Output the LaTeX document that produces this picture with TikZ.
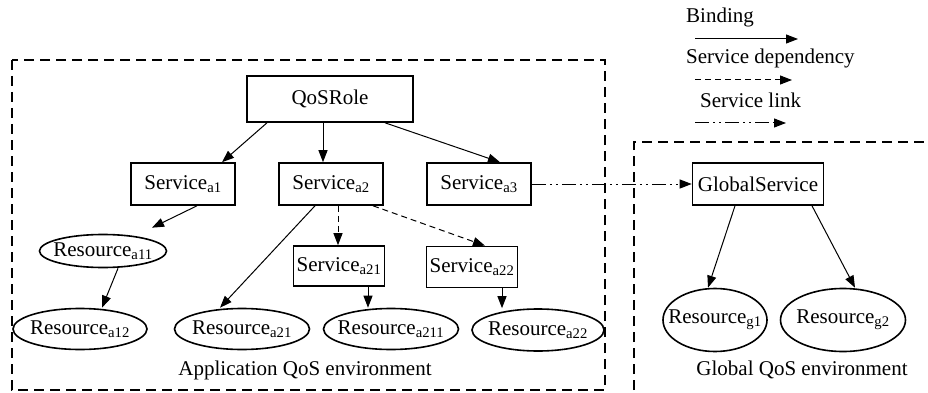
\documentclass[tikz,border=0pt]{standalone}
\usepackage{fontspec}
\setmainfont{Liberation Serif}
\usetikzlibrary{arrows.meta,shapes.geometric}
\newcommand\sbs[1]{\textsubscript{#1}}
\begin{document}
\begin{tikzpicture}[x=1pt,y=-1pt,
  every node/.style={font=\fontsize{21}{24}\selectfont, inner sep=0pt},
  sbox/.style={draw, line width=1.6pt, rectangle},
  rbox/.style={draw, line width=1.6pt, ellipse, inner xsep=-12pt, inner ysep=-8pt},
  env/.style={draw, line width=2.4pt, dash pattern=on 10pt off 6pt},
  tip/.style={-{Triangle[length=12pt,width=9pt]}},
  bind/.style={tip, line width=1pt},
  dep/.style={tip, line width=1pt, dash pattern=on 6pt off 4pt},
  lnk/.style={tip, line width=1pt, dash pattern=on 14pt off 4pt on 2pt off 4pt on 2pt off 4pt}
]
\useasboundingbox (0,0) rectangle (928,393);
\fill[white] (0,0) rectangle (928,393);
% environments
\draw[env] (12,60) rectangle (605,390);
\draw[env] (634,390) -- (634,142) -- (935,142);
\node (appl) at (305,370) {Application QoS environment};
\node (glbl) at (802,370) {Global QoS environment};
% legend
\node[anchor=west] (lb) at (686,17) {Binding};
\coordinate (lb1) at (695,39); \coordinate (lb2) at (798,39);
\draw[bind] (lb1) -- (lb2);
\node[anchor=west] (ld) at (686,58) {Service dependency};
\coordinate (ld1) at (695,80); \coordinate (ld2) at (792,80);
\draw[dep] (ld1) -- (ld2);
\node[anchor=west] (ll) at (700,100) {Service link};
\coordinate (ll1) at (695,123); \coordinate (ll2) at (786,123);
\draw[lnk] (ll1) -- (ll2);
% nodes
\node[sbox, minimum width=166pt, minimum height=46pt] (q) at (330,99) {QoSRole};
\node[sbox, minimum width=104pt, minimum height=42pt] (s1) at (183,184) {Service\sbs{a1}};
\node[sbox, minimum width=104pt, minimum height=42pt] (s2) at (331,184) {Service\sbs{a2}};
\node[sbox, minimum width=104pt, minimum height=42pt] (s3) at (479,184) {Service\sbs{a3}};
\node[sbox, minimum width=131pt, minimum height=42pt] (gs) at (758,184) {GlobalService};
\node[sbox, minimum width=91pt, minimum height=40pt] (s21) at (339,266) {Service\sbs{a21}};
\node[sbox, minimum width=91pt, minimum height=41pt] (s22) at (472,267) {Service\sbs{a22}};
\node[rbox, minimum width=127pt, minimum height=33pt] (r11) at (103,251) {Resource\sbs{a11}};
\node[rbox, minimum width=134pt, minimum height=41pt] (r12) at (80,329) {Resource\sbs{a12}};
\node[rbox, minimum width=135pt, minimum height=41pt] (r21) at (242,329) {Resource\sbs{a21}};
\node[rbox, minimum width=135pt, minimum height=41pt] (r211) at (391,329) {Resource\sbs{a211}};
\node[rbox, minimum width=132pt, minimum height=42pt] (r22) at (538,330) {Resource\sbs{a22}};
\node[rbox, minimum width=104pt, minimum height=63pt] (g1) at (715,320) {Resource\sbs{g1}};
\node[rbox, minimum width=125pt, minimum height=63pt] (g2) at (843,320) {Resource\sbs{g2}};
% edges
\draw[bind] ([xshift=-63pt]q.south) -- ([xshift=39pt]s1.north);
\draw[bind] ([xshift=-7pt]q.south) -- ([xshift=-8pt]s2.north);
\draw[bind] ([xshift=55pt]q.south) -- ([xshift=21pt]s3.north);
\draw[bind] ([xshift=14pt]s1.south) -- ([xshift=49pt,yshift=6pt]r11.north);
\draw[bind] ([xshift=15pt]r11.south) -- ([xshift=22pt]r12.north);
\draw[bind] ([xshift=-16pt]s2.south) -- ([xshift=-22pt]r21.north);
\draw[dep] ([xshift=7pt]s2.south) -- ([xshift=-1pt]s21.north);
\draw[dep] ([xshift=42pt]s2.south) -- ([xshift=13pt]s22.north);
\draw[bind] ([xshift=29pt]s21.south) -- ([xshift=-23pt]r211.north);
\draw[bind] ([xshift=30pt]s22.south) -- ([xshift=-36pt]r22.north);
\draw[lnk] (s3.east) -- (gs.west);
\draw[bind] ([xshift=-23pt]gs.south) -- ([xshift=-7pt]g1.north);
\draw[bind] ([xshift=54pt]gs.south) -- ([xshift=12pt]g2.north);
\end{tikzpicture}
\end{document}
